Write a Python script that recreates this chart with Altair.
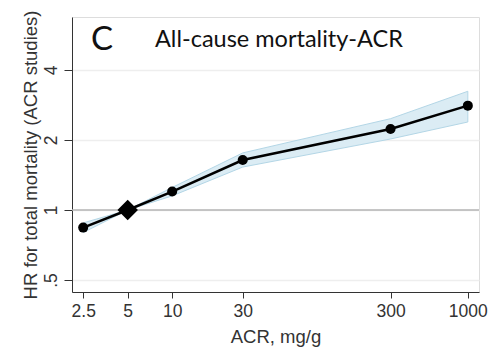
import altair as alt
import pandas as pd

acr = [2.5, 5, 10, 30, 300, 1000]
hr = [0.84, 1.0, 1.2, 1.64, 2.23, 2.81]
hr_lo = [0.80, 1.0, 1.15, 1.53, 2.02, 2.39]
hr_hi = [0.88, 1.0, 1.25, 1.76, 2.47, 3.24]
is_ref = [False, True, False, False, False, False]

x_ticks = [2.5, 5, 10, 30, 300, 1000]
y_ticks = [0.5, 1, 2, 4]

df = pd.DataFrame({"acr": acr, "hr": hr, "lo": hr_lo, "hi": hr_hi, "ref": is_ref})
ref_df = pd.DataFrame({"y": [1.0]})

FONT = "Liberation Sans"

xenc = alt.X("acr:Q", scale=alt.Scale(type="log", domain=[2.1, 1190], nice=False),
             axis=alt.Axis(values=x_ticks, format="~g", title="ACR, mg/g", grid=False,
                           labelFont=FONT, labelFontSize=17.5, labelColor="#333",
                           titleFont=FONT, titleFontSize=18.5, titleFontWeight="normal", titleColor="#333",
                           tickSize=6, labelPadding=4, titlePadding=8, domainColor="#333", tickColor="#333",
                           labelFlush=False))
yscale = alt.Scale(type="log", domain=[0.444, 6.76], nice=False)

band = alt.Chart(df).mark_area(color="#dbecf4", stroke="#b3d6e6", strokeWidth=1).encode(
    x=xenc,
    y=alt.Y("lo:Q", scale=yscale,
            axis=alt.Axis(values=y_ticks,
                          labelExpr="datum.value == 0.5 ? '.5' : format(datum.value, '~g')",
                          title="HR for total mortality (ACR studies)",
                          labelAngle=-90, labelAlign="center", labelBaseline="bottom",
                          labelFont=FONT, labelFontSize=17.5, labelColor="#333",
                          titleFont=FONT, titleFontSize=18.5, titleFontWeight="normal", titleColor="#333",
                          tickSize=8, labelPadding=4, titlePadding=2,
                          gridColor="#eeeeee", gridWidth=1.5, domainColor="#333", tickColor="#333")),
    y2="hi:Q",
)

refline = alt.Chart(ref_df).mark_rule(color="#b5b5b5", strokeWidth=1.5).encode(y=alt.Y("y:Q", scale=yscale))

line = alt.Chart(df).mark_line(color="black", strokeWidth=2.5).encode(x="acr:Q", y="hr:Q")

circles = alt.Chart(df).transform_filter("!datum.ref").mark_point(
    shape="circle", filled=True, color="black", size=100, opacity=1).encode(x="acr:Q", y="hr:Q")

diamond = alt.Chart(df).transform_filter("datum.ref").mark_point(
    shape="diamond", filled=True, color="black", size=420, opacity=1).encode(x="acr:Q", y="hr:Q")

letter = alt.Chart(pd.DataFrame({"t": ["C"]})).mark_text(
    font="Lato", fontSize=33, align="left", baseline="alphabetic", color="#111").encode(
    text="t:N", x=alt.value(19), y=alt.value(33))

title = alt.Chart(pd.DataFrame({"t": ["All-cause mortality-ACR"]})).mark_text(
    font="Lato", fontSize=23.5, align="left", baseline="alphabetic", color="#111").encode(
    text="t:N", x=alt.value(83), y=alt.value(30))

chart = alt.layer(band, refline, line, circles, diamond, letter, title).properties(
    width=407, height=275,
    padding={"left": 72, "top": 17, "right": 10, "bottom": 55},
    autosize=alt.AutoSizeParams(type="none"),
).configure_view(stroke=None).configure(background="white")

chart.save("out.html", embed_options={"renderer": "svg", "actions": False})
